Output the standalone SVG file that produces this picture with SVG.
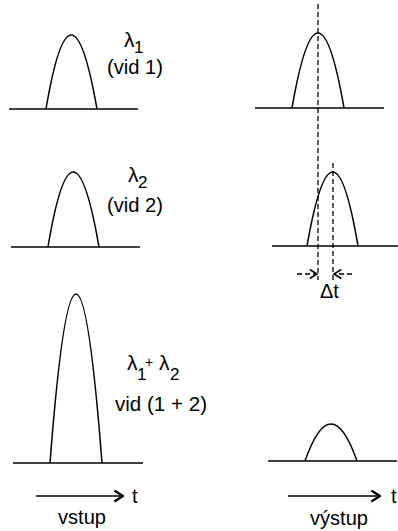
<svg xmlns="http://www.w3.org/2000/svg" width="398" height="531" viewBox="0 0 398 531">
<style>
.ln{fill:none;stroke:#000;stroke-width:1.5}
.ds{fill:none;stroke:#000;stroke-width:1.3;stroke-dasharray:5,3}
.ar{fill:none;stroke:#000;stroke-width:1.5}
text{font-family:"Liberation Sans",Arial,sans-serif;fill:#000}
.t{font-size:20px}
.g{font-size:21px}
.s{font-size:17px}
.p{font-size:14px}
</style>
<defs>
<marker id="chev" viewBox="0 0 10 12" refX="9" refY="6" markerWidth="11" markerHeight="13" markerUnits="userSpaceOnUse" orient="auto">
<path d="M1,1 L9,6 L1,11" fill="none" stroke="#000" stroke-width="2.2"/>
</marker>
<marker id="chevs" viewBox="0 0 10 12" refX="9" refY="6" markerWidth="9" markerHeight="11" markerUnits="userSpaceOnUse" orient="auto">
<path d="M1,1 L9,6 L1,11" fill="none" stroke="#000" stroke-width="1.8"/>
</marker>
</defs>
<rect width="398" height="531" fill="#fff"/>

<g id="in1">
<line class="ln" x1="9" y1="109" x2="138" y2="109"/>
<path class="ln" d="M46,109 Q71,-39 97,109"/>
<text class="g" x="124" y="47">λ</text><text class="s" x="134" y="53">1</text>
<text class="t" x="107" y="74" textLength="56" lengthAdjust="spacingAndGlyphs">(vid 1)</text>
</g>

<g id="in2">
<line class="ln" x1="11" y1="247" x2="140" y2="247"/>
<path class="ln" d="M48,247 Q73,97 99,247"/>
<text class="g" x="128" y="182">λ</text><text class="s" x="138" y="188">2</text>
<text class="t" x="107" y="212" textLength="56" lengthAdjust="spacingAndGlyphs">(vid 2)</text>
</g>

<g id="in3">
<line class="ln" x1="13" y1="463" x2="143" y2="463"/>
<path class="ln" d="M50,463 Q76,125 102,463"/>
<text class="g" x="127" y="370">λ</text><text class="s" x="137" y="380">1</text>
<text class="p" x="145" y="367">+</text>
<text class="g" x="159" y="370">λ</text><text class="s" x="170" y="380">2</text>
<text class="t" x="115" y="411" textLength="92" lengthAdjust="spacingAndGlyphs">vid (1 + 2)</text>
</g>

<g id="out1">
<line class="ln" x1="255" y1="108" x2="384" y2="108"/>
<path class="ln" d="M292,108 Q318,-42 344,108"/>
</g>

<g id="out2">
<line class="ln" x1="272" y1="246" x2="398" y2="246"/>
<path class="ln" d="M307,246 Q333,98 358,246"/>
<text class="t" x="320" y="298">Δt</text>
</g>

<g id="out3">
<line class="ln" x1="268" y1="461" x2="397" y2="461"/>
<path class="ln" d="M305,461 Q331,387 357,461"/>
</g>

<g id="axis-in">
<text class="t" x="132" y="503">t</text>
<text class="t" x="82" y="524" text-anchor="middle" textLength="48" lengthAdjust="spacingAndGlyphs">vstup</text>
</g>

<g id="axis-out">
<text class="t" x="391" y="503">t</text>
<text class="t" x="339" y="525" text-anchor="middle" textLength="58" lengthAdjust="spacingAndGlyphs">výstup</text>
</g>

<g id="connectors">
<line class="ds" x1="318" y1="4" x2="318" y2="280"/>
<line class="ds" x1="333" y1="163" x2="333" y2="280"/>
<line class="ds" x1="297" y1="274" x2="317" y2="274" marker-end="url(#chevs)"/>
<line class="ds" x1="352" y1="274" x2="334" y2="274" marker-end="url(#chevs)"/>
<line class="ar" x1="36" y1="496" x2="123" y2="496" marker-end="url(#chev)"/>
<line class="ar" x1="288" y1="496" x2="380" y2="496" marker-end="url(#chev)"/>
</g>
</svg>
